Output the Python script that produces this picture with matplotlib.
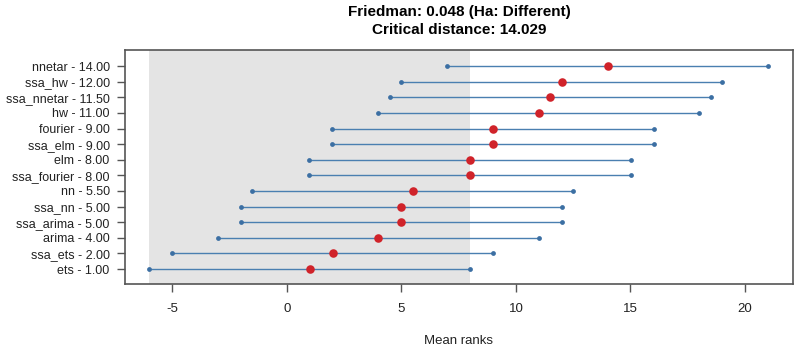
import matplotlib
matplotlib.use("Agg")
import matplotlib.pyplot as plt
import numpy as np

models = ["ets", "ssa_ets", "arima", "ssa_arima", "ssa_nn", "nn", "ssa_fourier",
          "elm", "ssa_elm", "fourier", "hw", "ssa_nnetar", "ssa_hw", "nnetar"]
mean_ranks = [1.00, 2.00, 4.00, 5.00, 5.00, 5.50, 8.00, 8.00, 9.00, 9.00, 11.00, 11.50, 12.00, 14.00]
critical_distance = 14.029
friedman_p = 0.048
x_ticks = [-5, 0, 5, 10, 15, 20]

plt.rcParams['font.family'] = ['Liberation Sans', 'DejaVu Sans']

fig = plt.figure(figsize=(7.99, 3.53), dpi=100)
ax = fig.add_axes([0.1564, 0.1955, 0.8361, 0.6629])

ranks = np.array(mean_ranks)
lo = ranks - critical_distance / 2
hi = ranks + critical_distance / 2
ypos = np.arange(1, len(models) + 1)

ax.axvspan(lo[0], hi[0], color='#e4e4e4', zorder=0, lw=0)
ax.hlines(ypos, lo, hi, color='#4a7fb0', lw=1.0, zorder=2)
ax.scatter(lo, ypos, s=12, color='#3c6fa3', zorder=3, lw=0)
ax.scatter(hi, ypos, s=12, color='#3c6fa3', zorder=3, lw=0)
ax.scatter(ranks, ypos, s=38, color='#d0232a', zorder=4, lw=0)

ax.set_xlim(-7.07, 22.1)
ax.set_ylim(0.04, 15.03)
ax.set_xticks(x_ticks)
ax.set_xticklabels([str(t) for t in x_ticks], fontsize=9.5, color='#222222')
ax.set_yticks(ypos)
ax.set_yticklabels([f"{m} - {r:.2f}" for m, r in zip(models, mean_ranks)], fontsize=9, color='#222222')
ax.tick_params(axis='both', length=6, width=1, color='#555555')
ax.tick_params(axis='y', pad=5)
ax.tick_params(axis='x', pad=8)
for s in ax.spines.values():
    s.set_color('#555555')
    s.set_linewidth(1.2)

ax.set_xlabel("Mean ranks", fontsize=9.5, color='#222222', labelpad=14)
fig.text(0.5745, 0.965, f"Friedman: {friedman_p:.3f} (Ha: Different)", ha='center', va='center',
         fontsize=11, fontweight='bold')
fig.text(0.5745, 0.915, f"Critical distance: {critical_distance:.3f}", ha='center', va='center',
         fontsize=11, fontweight='bold')

fig.savefig("out.png", dpi=100)
